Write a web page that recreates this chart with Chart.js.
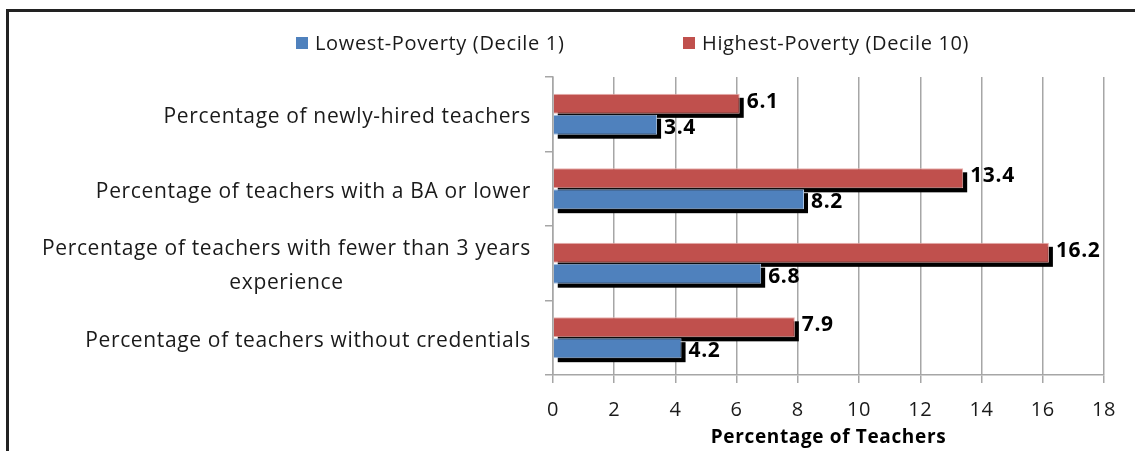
<!DOCTYPE html>
<html>
<head>
<meta charset="utf-8">
<script src="https://cdn.jsdelivr.net/npm/chart.js@4.4.1/dist/chart.umd.min.js"></script>
<style>
    html, body { margin: 0; padding: 0; background: #fff; }
    #wrap { width: 1135px; height: 451px; position: relative; }
</style>
</head>
<body>
<div id="wrap"><canvas id="poverty-chart"></canvas></div>
<script>
const categories = [
    ["Percentage of newly-hired teachers"],
    ["Percentage of teachers with a BA or lower"],
    ["Percentage of teachers with fewer than 3 years", "experience"],
    ["Percentage of teachers without credentials"],
];
const lowestPoverty = [3.4, 8.2, 6.8, 4.2];
const highestPoverty = [6.1, 13.4, 16.2, 7.9];
const seriesNames = ["Lowest-Poverty (Decile 1)", "Highest-Poverty (Decile 10)"];
const xTicks = [0, 2, 4, 6, 8, 10, 12, 14, 16, 18];

const FONT = "'Open Sans', 'Noto Sans', sans-serif";
const SPACING = "0.65px";
const BLUE = "#4F81BD";
const RED = "#C0504D";

// the old Excel look spaces its letters out a bit
const letterSpacing = {
    id: "letterSpacing",
    beforeDraw(chart) {
        chart.ctx.letterSpacing = SPACING;
    },
};

// black offset "shadow" behind every bar, plus the value labels
const barShadows = {
    id: "barShadows",
    beforeDatasetsDraw(chart) {
        const ctx = chart.ctx;
        ctx.save();
        ctx.fillStyle = "#000";
        chart.data.datasets.forEach((ds, i) => {
            chart.getDatasetMeta(i).data.forEach((bar) => {
                const h = bar.height;
                ctx.fillRect(bar.base + 4, bar.y - h / 2 + 4, bar.x - bar.base, h);
            });
        });
        ctx.restore();
    },
    afterDatasetsDraw(chart) {
        const ctx = chart.ctx;
        ctx.save();
        ctx.letterSpacing = SPACING;
        ctx.fillStyle = "#000";
        ctx.font = "bold 21px " + FONT;
        ctx.textBaseline = "middle";
        ctx.textAlign = "left";
        chart.data.datasets.forEach((ds, i) => {
            chart.getDatasetMeta(i).data.forEach((bar, j) => {
                const dy = i === 0 ? -2 : 3;
                ctx.fillText(ds.data[j].toFixed(1), bar.x + 7, bar.y + dy);
            });
        });
        ctx.restore();
    },
};

// category labels: right aligned block, lines centred on each other
const categoryLabels = {
    id: "categoryLabels",
    afterDraw(chart) {
        const ctx = chart.ctx;
        const yScale = chart.scales.y;
        const right = yScale.right - 22;
        const lineH = 34;
        ctx.save();
        ctx.letterSpacing = SPACING;
        ctx.font = "21px " + FONT;
        ctx.fillStyle = "#1a1a1a";
        ctx.textBaseline = "middle";
        ctx.textAlign = "center";
        categories.forEach((lines, i) => {
            const yc = yScale.getPixelForTick(i);
            const w = Math.max(...lines.map((t) => ctx.measureText(t).width));
            const cx = right - w / 2;
            const y0 = yc - ((lines.length - 1) * lineH) / 2;
            lines.forEach((t, k) => ctx.fillText(t, cx, y0 + k * lineH + 3));
        });
        ctx.restore();
    },
};

// legend (blue first) and the frame around the chart
const legendAndFrame = {
    id: "legendAndFrame",
    afterDraw(chart) {
        const ctx = chart.ctx;
        ctx.save();
        ctx.strokeStyle = "#222";
        ctx.lineWidth = 3;
        ctx.beginPath();
        ctx.moveTo(7.5, 460);
        ctx.lineTo(7.5, 10.5);
        ctx.lineTo(1140, 10.5);
        ctx.stroke();

        const items = [
            { x: 296, color: BLUE, text: seriesNames[0] },
            { x: 683, color: RED, text: seriesNames[1] },
        ];
        ctx.letterSpacing = SPACING;
        ctx.font = "20px " + FONT;
        ctx.textBaseline = "middle";
        ctx.textAlign = "left";
        items.forEach((it) => {
            ctx.fillStyle = it.color;
            ctx.fillRect(it.x, 37, 12, 12);
            ctx.fillStyle = "#1a1a1a";
            ctx.fillText(it.text, it.x + 19, 44);
        });
        ctx.restore();
    },
};

const config = {
    type: "bar",
    data: {
        labels: categories.map((c) => c.join(" ")),
        datasets: [
            {
                label: seriesNames[1],
                data: highestPoverty,
                backgroundColor: RED,
                borderColor: "#e8b0ae",
                borderWidth: 1,
            },
            {
                label: seriesNames[0],
                data: lowestPoverty,
                backgroundColor: BLUE,
                borderColor: "#a9c3e3",
                borderWidth: 1,
            },
        ],
    },
    options: {
        indexAxis: "y",
        responsive: true,
        maintainAspectRatio: false,
        animation: false,
        categoryPercentage: 0.56,
        barPercentage: 0.96,
        layout: {
            padding: { top: 77, right: 31, bottom: 0, left: 0 },
        },
        scales: {
            x: {
                min: 0,
                max: 18,
                afterBuildTicks: (scale) => {
                    scale.ticks = xTicks.map((v) => ({ value: v }));
                },
                afterFit: (scale) => {
                    scale.height = 76;
                },
                grid: {
                    color: "#a6a6a6",
                    lineWidth: 1.5,
                    tickLength: 8,
                },
                border: { color: "#a6a6a6", width: 1.5 },
                ticks: {
                    color: "#1a1a1a",
                    padding: 15,
                    font: { family: FONT, size: 20 },
                    maxRotation: 0,
                },
                title: {
                    display: true,
                    text: "Percentage of Teachers",
                    color: "#000",
                    font: { family: FONT, size: 19, weight: "bold" },
                    padding: { top: 0, bottom: 2 },
                },
            },
            y: {
                afterFit: (scale) => {
                    scale.width = 553;
                },
                grid: {
                    drawOnChartArea: false,
                    color: "#a6a6a6",
                    lineWidth: 1.5,
                    tickLength: 8,
                },
                border: { color: "#a6a6a6", width: 1.5 },
                ticks: { display: false },
            },
        },
        plugins: {
            legend: { display: false },
            tooltip: { enabled: false },
        },
    },
    plugins: [letterSpacing, barShadows, categoryLabels, legendAndFrame],
};

new Chart(document.getElementById("poverty-chart").getContext("2d"), config);
</script>
</body>
</html>
